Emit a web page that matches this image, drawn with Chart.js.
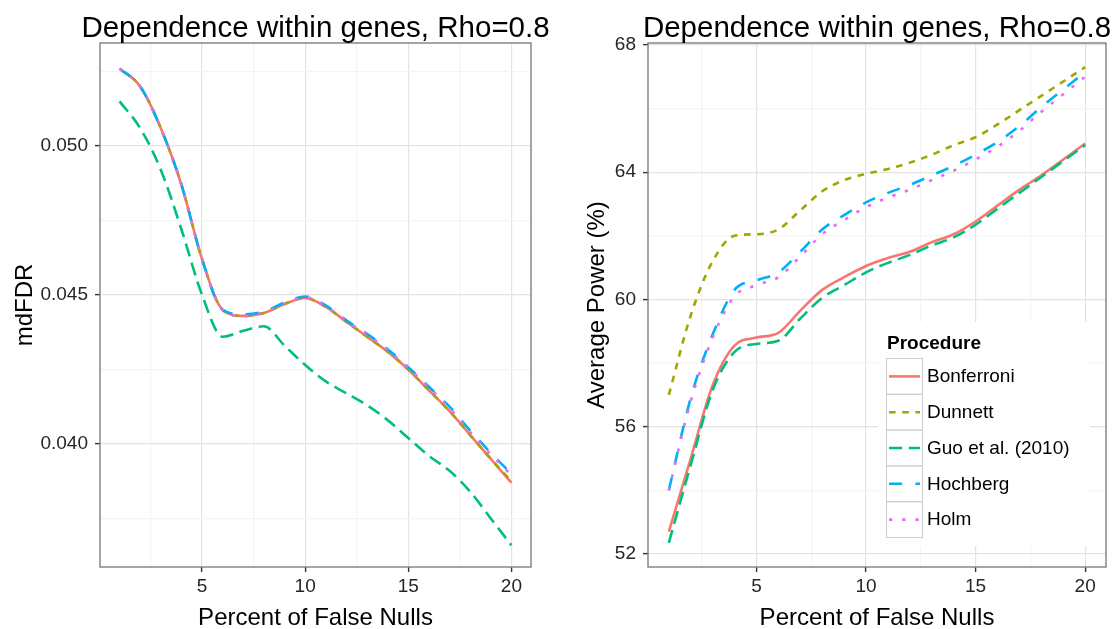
<!DOCTYPE html>
<html>
<head>
<meta charset="utf-8">
<script src="https://cdn.jsdelivr.net/npm/chart.js@4.4.1/dist/chart.umd.min.js"></script>
<style>
  html, body { margin: 0; padding: 0; background: #ffffff; }
  #wrap { position: relative; width: 1113px; height: 629px; }
  canvas { position: absolute; top: 0; }
</style>
</head>
<body>
<div id="wrap">
  <canvas id="mdfdrChart" width="560" height="629" style="left:0px"></canvas>
  <canvas id="powerChart" width="553" height="629" style="left:560px"></canvas>
</div>
<script>
// values
const percentFalseNulls = [1, 2, 3, 4, 5, 6, 7, 8, 9, 10, 11, 12, 13, 14, 15, 16, 17, 18, 19, 20];
const procedures = ['Bonferroni', 'Dunnett', 'Guo et al. (2010)', 'Hochberg', 'Holm'];

// left panel: mdFDR
const mdfdrBonferroni = [0.0526, 0.0520, 0.0506, 0.0487, 0.0462, 0.0445, 0.0443, 0.0444, 0.0447, 0.0449, 0.0446, 0.0441, 0.0436, 0.0431, 0.0425, 0.0418, 0.0411, 0.0403, 0.0395, 0.0387];
const mdfdrDunnett    = [0.0526, 0.0520, 0.0506, 0.0487, 0.0462, 0.0445, 0.0443, 0.0444, 0.0447, 0.0449, 0.0446, 0.0441, 0.0436, 0.0431, 0.0425, 0.0418, 0.0411, 0.0403, 0.0395, 0.03875];
const mdfdrGuo        = [0.0515, 0.0506, 0.0492, 0.0472, 0.0450, 0.0436, 0.0438, 0.04395, 0.0433, 0.04265, 0.0421, 0.0417, 0.0413, 0.0408, 0.0402, 0.0396, 0.0391, 0.0384, 0.0375, 0.0366];
const mdfdrHochberg   = [0.0526, 0.0520, 0.0506, 0.0487, 0.0462, 0.0445, 0.04435, 0.04445, 0.04475, 0.04495, 0.04465, 0.04415, 0.0437, 0.04318, 0.04258, 0.04192, 0.04125, 0.04045, 0.0397, 0.0390];
const mdfdrHolm       = [0.0526, 0.0520, 0.0506, 0.0487, 0.0462, 0.0445, 0.0443, 0.04442, 0.04472, 0.04492, 0.04462, 0.04412, 0.04368, 0.04315, 0.04255, 0.0419, 0.0412, 0.0404, 0.03965, 0.03895];

// right panel: average power (%)
const powerBonferroni = [52.7, 55.0, 57.3, 58.55, 58.8, 58.95, 59.65, 60.3, 60.7, 61.05, 61.3, 61.5, 61.8, 62.05, 62.45, 62.95, 63.45, 63.9, 64.4, 64.9];
const powerDunnett    = [57.0, 59.5, 61.2, 62.0, 62.05, 62.2, 62.8, 63.4, 63.75, 63.95, 64.1, 64.3, 64.55, 64.85, 65.1, 65.5, 65.95, 66.4, 66.85, 67.3];
const powerGuo        = [52.35, 54.8, 57.15, 58.35, 58.6, 58.7, 59.4, 60.05, 60.45, 60.85, 61.15, 61.4, 61.7, 61.95, 62.35, 62.85, 63.35, 63.85, 64.35, 64.85];
const powerHochberg   = [54.0, 56.9, 58.9, 60.3, 60.6, 60.85, 61.5, 62.2, 62.65, 63.05, 63.35, 63.6, 63.9, 64.2, 64.55, 64.95, 65.45, 66.05, 66.6, 67.15];
const powerHolm       = [54.0, 56.8, 58.8, 60.1, 60.45, 60.7, 61.35, 62.05, 62.5, 62.9, 63.2, 63.45, 63.75, 64.05, 64.4, 64.8, 65.3, 65.9, 66.45, 67.0];

// tick values
const xMajorTicks = [5, 10, 15, 20];
const xMinorTicks = [2.5, 7.5, 12.5, 17.5];
const mdfdrMajorTicks = [0.040, 0.045, 0.050];
const mdfdrMinorTicks = [0.0375, 0.0425, 0.0475, 0.0525];
const powerMajorTicks = [52, 56, 60, 64, 68];
const powerMinorTicks = [54, 58, 62, 66];

const FONT = "'Liberation Sans', Arial, sans-serif";
const lineColors = ['#F8766D', '#A3A500', '#00BF7D', '#00B0F6', '#E76BF3'];
const lineDashes = [[], [6.6, 6.6], [13.2, 6.6], [13.2, 13.2], [3.3, 9.9]];
const LINE_WIDTH = 2.6;

function isMajor(value, majors) {
  return majors.some(m => Math.abs(m - value) < 1e-9);
}

function makeDatasets(seriesList) {
  return seriesList.map((values, i) => ({
    label: procedures[i],
    data: values.map((v, j) => ({ x: percentFalseNulls[j], y: v })),
    borderColor: lineColors[i],
    borderDash: lineDashes[i],
    borderWidth: LINE_WIDTH,
    borderCapStyle: 'butt',
    pointRadius: 0,
    fill: false,
    cubicInterpolationMode: 'monotone',
    order: seriesList.length - i
  }));
}

function setTicks(majors, minors) {
  return scale => {
    scale.ticks = majors.concat(minors).sort((a, b) => a - b).map(v => ({ value: v }));
  };
}

function gridOptions(majors) {
  return {
    color: ctx => (ctx.tick && isMajor(ctx.tick.value, majors)) ? '#e3e3e3' : '#f4f4f4',
    lineWidth: 1.2,
    tickLength: 5,
    tickWidth: 1.4,
    tickColor: ctx => (ctx.tick && isMajor(ctx.tick.value, majors)) ? '#333333' : 'rgba(0,0,0,0)'
  };
}

function makeScales(cfg) {
  return {
    x: {
      type: 'linear',
      min: 0.05,
      max: 20.95,
      afterBuildTicks: setTicks(xMajorTicks, xMinorTicks),
      afterFit: s => { s.height = 62; },
      border: { display: false },
      grid: gridOptions(xMajorTicks),
      ticks: {
        autoSkip: false,
        maxRotation: 0,
        padding: 3,
        color: '#262626',
        font: { family: FONT, size: 19 },
        callback: v => isMajor(v, xMajorTicks) ? String(v) : ''
      },
      title: {
        display: true,
        text: 'Percent of False Nulls',
        color: '#000000',
        font: { family: FONT, size: 24, lineHeight: 1 },
        padding: { top: 0, bottom: -1 }
      }
    },
    y: {
      type: 'linear',
      min: cfg.yMin,
      max: cfg.yMax,
      afterBuildTicks: setTicks(cfg.yMajor, cfg.yMinor),
      afterFit: s => { s.width = cfg.yWidth; },
      border: { display: false },
      grid: gridOptions(cfg.yMajor),
      ticks: {
        autoSkip: false,
        padding: 7,
        color: '#262626',
        font: { family: FONT, size: 19 },
        callback: v => isMajor(v, cfg.yMajor) ? cfg.format(v) : ''
      },
      title: {
        display: true,
        text: cfg.yTitle,
        color: '#000000',
        font: { family: FONT, size: 24, lineHeight: 1 },
        padding: { top: cfg.yTitlePad, bottom: 0 }
      }
    }
  };
}

const panelBorder = {
  id: 'panelBorder',
  afterDatasetsDraw(chart) {
    const { ctx, chartArea: a } = chart;
    ctx.save();
    ctx.strokeStyle = '#7f7f7f';
    ctx.lineWidth = 1.4;
    ctx.strokeRect(a.left, a.top, a.right - a.left, a.bottom - a.top);
    ctx.restore();
  }
};

const panelTitle = {
  id: 'panelTitle',
  afterDraw(chart, args, opts) {
    const { ctx, chartArea: a } = chart;
    ctx.save();
    ctx.font = '29.5px ' + FONT;
    ctx.fillStyle = '#000000';
    ctx.textAlign = 'center';
    ctx.textBaseline = 'alphabetic';
    ctx.fillText(opts.text, (a.left + a.right) / 2, 37);
    ctx.restore();
  }
};

// ggplot-style legend inside the right panel
const procedureLegend = {
  id: 'procedureLegend',
  afterDraw(chart) {
    const ctx = chart.ctx;
    const left = 318, top = 322, keyX = 326, keyTop = 358, keySize = 36, rowH = 35.8;
    ctx.save();
    ctx.fillStyle = '#ffffff';
    ctx.fillRect(left, top, 212, 224);
    ctx.fillStyle = '#000000';
    ctx.font = 'bold 19px ' + FONT;
    ctx.textAlign = 'left';
    ctx.textBaseline = 'alphabetic';
    ctx.fillText('Procedure', 327, 349);
    chart.data.datasets.forEach((ds, i) => {
      const y = keyTop + i * rowH;
      ctx.strokeStyle = '#cccccc';
      ctx.lineWidth = 1;
      ctx.setLineDash([]);
      ctx.strokeRect(keyX + 0.5, y + 0.5, keySize, rowH);
      ctx.strokeStyle = ds.borderColor;
      ctx.lineWidth = LINE_WIDTH;
      ctx.lineCap = 'butt';
      ctx.setLineDash(ds.borderDash);
      ctx.beginPath();
      ctx.moveTo(keyX + 3, y + rowH / 2 + 0.5);
      ctx.lineTo(keyX + keySize - 2, y + rowH / 2 + 0.5);
      ctx.stroke();
      ctx.setLineDash([]);
      ctx.fillStyle = '#000000';
      ctx.font = '19px ' + FONT;
      ctx.textBaseline = 'middle';
      ctx.fillText(ds.label, 367, y + rowH / 2 + 1);
    });
    ctx.restore();
  }
};

new Chart(document.getElementById('mdfdrChart'), {
  type: 'line',
  data: {
    datasets: makeDatasets([mdfdrBonferroni, mdfdrDunnett, mdfdrGuo, mdfdrHochberg, mdfdrHolm])
  },
  options: {
    responsive: false,
    animation: false,
    layout: { padding: { left: 0, right: 29, top: 43, bottom: 0 } },
    plugins: {
      legend: { display: false },
      tooltip: { enabled: false },
      panelTitle: { text: 'Dependence within genes, Rho=0.8' }
    },
    scales: makeScales({
      yMin: 0.03587, yMax: 0.05346,
      yMajor: mdfdrMajorTicks, yMinor: mdfdrMinorTicks,
      yWidth: 100, yTitle: 'mdFDR', yTitlePad: 13,
      format: v => v.toFixed(3)
    })
  },
  plugins: [panelBorder, panelTitle]
});

new Chart(document.getElementById('powerChart'), {
  type: 'line',
  data: {
    datasets: makeDatasets([powerBonferroni, powerDunnett, powerGuo, powerHochberg, powerHolm])
  },
  options: {
    responsive: false,
    animation: false,
    layout: { padding: { left: 0, right: 7, top: 43, bottom: 0 } },
    plugins: {
      legend: { display: false },
      tooltip: { enabled: false },
      panelTitle: { text: 'Dependence within genes, Rho=0.8' }
    },
    scales: makeScales({
      yMin: 51.59, yMax: 68.06,
      yMajor: powerMajorTicks, yMinor: powerMinorTicks,
      yWidth: 88, yTitle: 'Average Power (%)', yTitlePad: 25,
      format: v => String(v)
    })
  },
  plugins: [panelBorder, panelTitle, procedureLegend]
});
</script>
</body>
</html>
